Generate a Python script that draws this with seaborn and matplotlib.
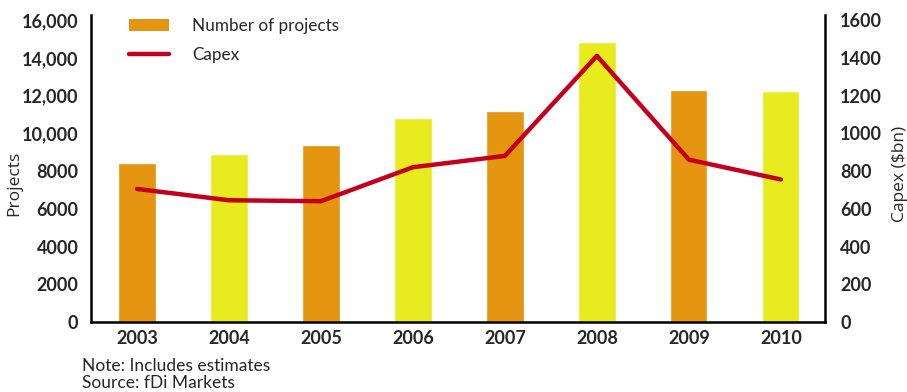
import numpy as np
import pandas as pd
import matplotlib
matplotlib.use("Agg")
import matplotlib.pyplot as plt
import seaborn as sns
from matplotlib.patches import Patch
from matplotlib.lines import Line2D

years = ["2003", "2004", "2005", "2006", "2007", "2008", "2009", "2010"]
projects = [8450, 8900, 9400, 10800, 11200, 14850, 12300, 12250]
capex = [705, 645, 640, 820, 880, 1410, 860, 755]
left_ticks = [0, 2000, 4000, 6000, 8000, 10000, 12000, 14000, 16000]
left_tick_labels = ["0", "2000", "4000", "6000", "8000", "10,000", "12,000", "14,000", "16,000"]
right_ticks = [0, 200, 400, 600, 800, 1000, 1200, 1400, 1600]
right_tick_labels = ["0", "200", "400", "600", "800", "1000", "1200", "1400", "1600"]

ORANGE = "#E69510"
YELLOW = "#E8EC1E"
RED = "#C4001E"
bar_colors = [ORANGE if i % 2 == 0 else YELLOW for i in range(len(years))]

sns.set_theme(style="white")
plt.rcParams["font.family"] = ["Lato", "DejaVu Sans"]

fig = plt.figure(figsize=(9.07, 3.92), dpi=100)
W, H = 907, 392
ax = fig.add_axes([91 / W, (H - 322) / H, (825 - 91) / W, (322 - 15) / H])

df = pd.DataFrame({"year": years, "projects": projects})
sns.barplot(data=df, x="year", y="projects", hue="year", palette=bar_colors,
            legend=False, width=0.405, saturation=1, ax=ax)

ax2 = ax.twinx()
sns.lineplot(x=np.arange(len(years)), y=capex, color=RED, linewidth=3.2, ax=ax2)

ytop = 16000 + 5 * 16000 / 302
ax.set_ylim(0, ytop)
ax2.set_ylim(0, ytop / 10)
ax.set_xlim(-0.5, 7.48)

ax.set_yticks(left_ticks)
ax.set_yticklabels(left_tick_labels, fontsize=13, fontweight="bold")
ax2.set_yticks(right_ticks)
ax2.set_yticklabels(right_tick_labels, fontsize=13, fontweight="bold")
ax.set_xticks(range(len(years)))
ax.set_xticklabels(years, fontsize=13, fontweight="bold")

ax.tick_params(axis="y", length=0, pad=9)
ax.tick_params(axis="x", length=0, pad=6)
ax2.tick_params(axis="y", length=0, pad=11)

for a in (ax, ax2):
    for s in a.spines.values():
        s.set_visible(False)
        s.set_color("black")
        s.set_linewidth(1.8)
ax.spines["left"].set_visible(True)
ax.spines["bottom"].set_visible(True)
ax2.spines["right"].set_visible(True)

ax.set_xlabel("")
ax.set_ylabel("Projects", family=["Open Sans", "DejaVu Sans"], fontsize=12.5, va="center")
ax.yaxis.set_label_coords((14 - 91) / 734, (322 - 183) / 307)
ax2.set_ylabel("Capex ($bn)", family=["Open Sans", "DejaVu Sans"], fontsize=12.5,
               va="center", rotation=90)
ax2.yaxis.set_label_coords((900 - 91) / 734, (322 - 174) / 307)

handles = [Patch(facecolor=ORANGE, edgecolor="none"),
           Line2D([0], [0], color=RED, linewidth=3.2)]
fig.legend(handles, ["Number of projects", "Capex"], loc="upper left",
           bbox_to_anchor=(129 / W, 1 - 18 / H), frameon=False, fontsize=12.3,
           borderpad=0, borderaxespad=0, handlelength=2.35, handleheight=0.7,
           handletextpad=1.35, labelspacing=0.78)

fig.text(82 / W, 1 - 366 / H, "Note: Includes estimates", fontsize=12.5, va="center", ha="left")
fig.text(82 / W, 1 - 382.5 / H, "Source: fDi Markets", fontsize=12.5, va="center", ha="left")

fig.savefig("out.png", dpi=100)
